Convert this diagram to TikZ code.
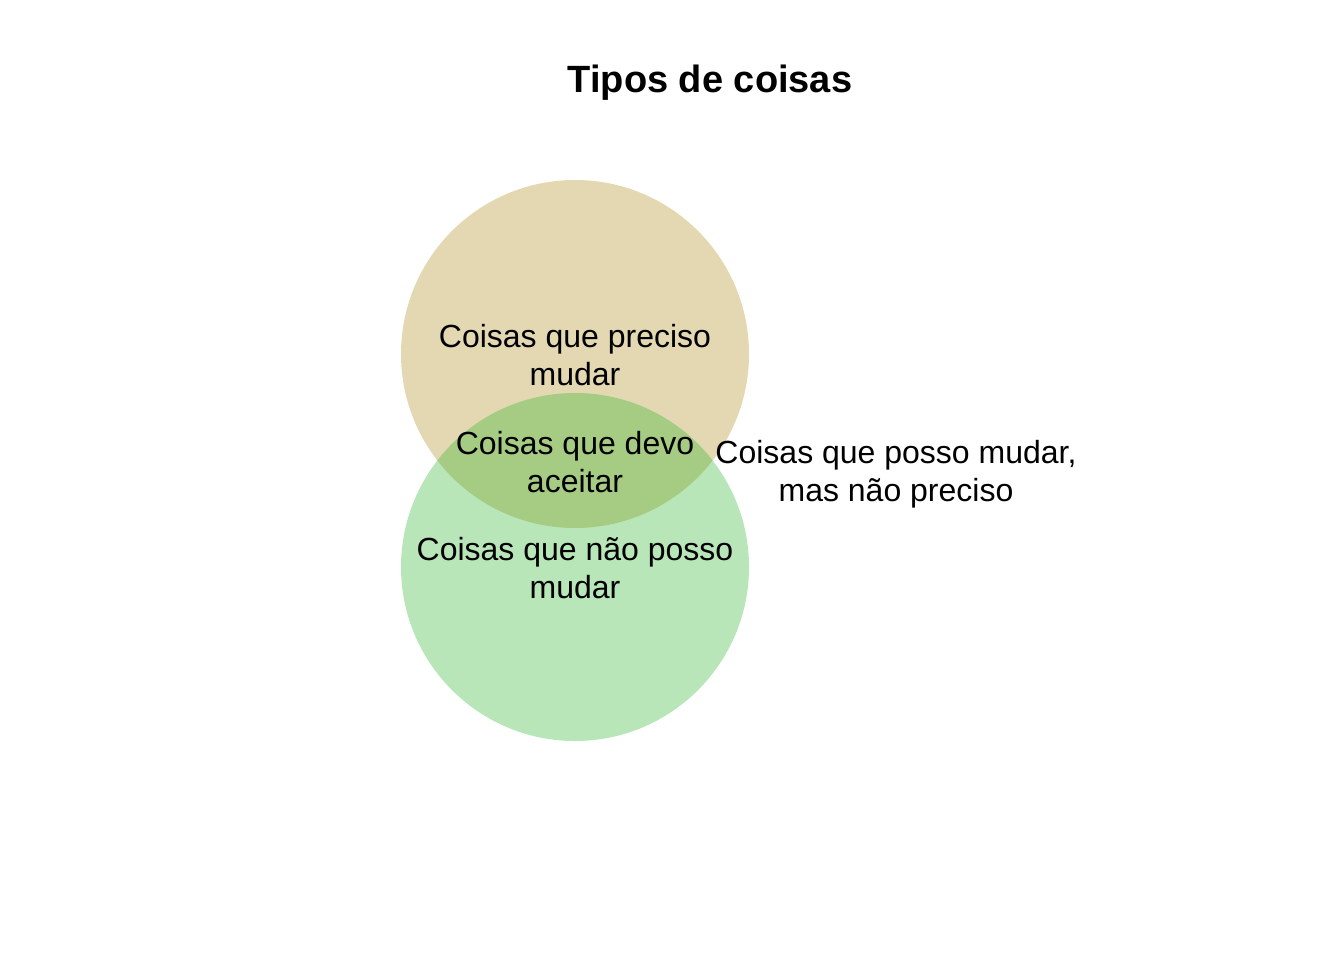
\documentclass[tikz,border=0pt]{standalone}
\usepackage{fontspec}
\usepackage{xcolor}
\usepackage{tikz}
\setmainfont{Liberation Sans}
\definecolor{precisoc}{RGB}{227,216,178}
\definecolor{naoposso}{RGB}{184,230,184}
\definecolor{aceitar}{RGB}{166,203,130}
\tikzset{
  setlabel/.style={align=center,inner sep=0pt,font=\fontsize{24}{28.5}\selectfont}
}

\begin{document}
\begin{tikzpicture}[x=0.75pt,y=-0.75pt]
  \useasboundingbox (0,0) rectangle (1344,960);
  \fill[precisoc] (575,354) circle (174);
  \fill[naoposso] (575,567) circle (174);
  \begin{scope}
    \clip (575,354) circle (174);
    \fill[aceitar] (575,567) circle (174);
  \end{scope}
  \node[font=\fontsize{28.5}{34}\selectfont\bfseries] (titulo) at (710,83) {Tipos de coisas};
  \node[setlabel] (preciso) at (575,355) {Coisas que preciso\\mudar};
  \node[setlabel] (devo) at (575,462) {Coisas que devo\\aceitar};
  \node[setlabel] (naoposso) at (575,568) {Coisas que não posso\\mudar};
  \node[setlabel] (possomudar) at (896,474) {Coisas que posso mudar,\\mas não preciso};
\end{tikzpicture}
\end{document}
